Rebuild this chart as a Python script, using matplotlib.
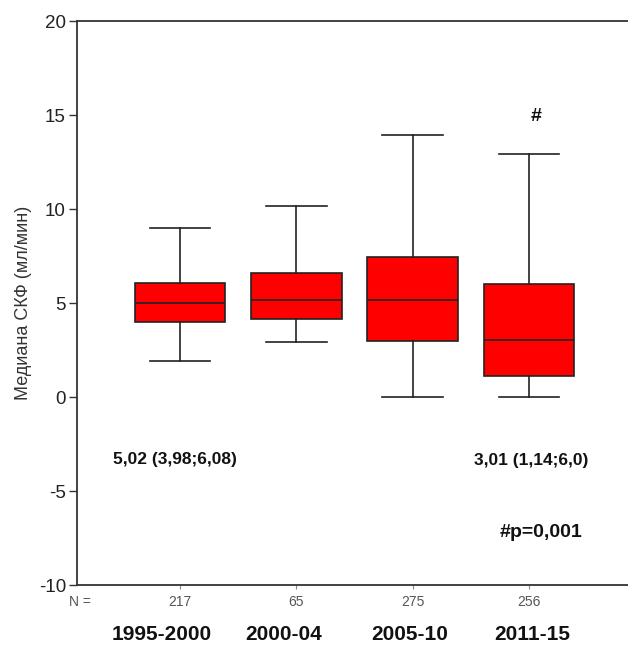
import matplotlib
matplotlib.use("Agg")
import matplotlib.pyplot as plt

plt.rcParams['font.family'] = ['Liberation Sans', 'DejaVu Sans']

categories = ["1995-2000", "2000-04", "2005-10", "2011-15"]
n_counts = ["217", "65", "275", "256"]
medians = [5.02, 5.17, 5.17, 3.01]
q1 = [3.98, 4.16, 3.0, 1.14]
q3 = [6.08, 6.6, 7.46, 6.0]
whislo = [1.9, 2.9, 0.0, 0.0]
whishi = [9.0, 10.15, 13.95, 12.95]
yticks = [-10, -5, 0, 5, 10, 15, 20]

fig = plt.figure(figsize=(6.28, 6.49), dpi=100)
ax = fig.add_axes([77/628, 64/649, 1 - 77/628, (585-21)/649])

stats = []
for i in range(len(categories)):
    stats.append(dict(med=medians[i], q1=q1[i], q3=q3[i],
                      whislo=whislo[i], whishi=whishi[i], fliers=[], label=categories[i]))

positions = list(range(1, len(categories) + 1))
ax.bxp(stats, positions=positions, widths=0.78, patch_artist=True,
       showfliers=False,
       boxprops=dict(facecolor='#ff0000', edgecolor='#222222', linewidth=1.2),
       medianprops=dict(color='#222222', linewidth=1.2),
       whiskerprops=dict(color='#222222', linewidth=1.2),
       capprops=dict(color='#222222', linewidth=1.2),
       capwidths=0.52)

ax.set_xlim(1 - (180-77)/116.5, 4 + (628-529)/116.5)
ax.set_ylim(-10, 20)
ax.set_yticks(yticks)
ax.set_yticklabels([str(t) for t in yticks], fontsize=13.5, color='#222222')
ax.set_xticks(positions)
ax.set_xticklabels([])
ax.tick_params(axis='y', length=6, width=1, color='#333333', pad=2)
ax.tick_params(axis='x', length=3, width=0.8, color='#888888')

for s in ['left', 'top', 'bottom']:
    ax.spines[s].set_color('#333333')
    ax.spines[s].set_linewidth(1.3)
ax.spines['right'].set_visible(False)

ax.set_ylabel("Медиана СКФ (мл/мин)", fontsize=13, color='#333333', labelpad=5)

# N labels and category labels
for p, n, c in zip(positions, n_counts, categories):
    ax.annotate(n, xy=(p, 0), xycoords=('data', 'axes fraction'),
                xytext=(0, -12.5), textcoords='offset points',
                ha='center', va='center', fontsize=10, color='#555555')
fig.text(80/628, 1 - 602/649, "N =", ha='center', va='center', fontsize=10, color='#555555')

cat_x = [162, 284, 410, 532]
for cx, c in zip(cat_x, categories):
    fig.text(cx/628, 1 - 634/649, c, ha='center', va='center',
             fontsize=15, fontweight='bold', color='#111111')

ax.text(0.957, -3.3, "5,02 (3,98;6,08)", ha='center', va='center',
        fontsize=12.5, fontweight='bold', color='#111111')
ax.text(4.015, -3.4, "3,01 (1,14;6,0)", ha='center', va='center',
        fontsize=12.5, fontweight='bold', color='#111111')
ax.text(4.1, -7.2, "#p=0,001", ha='center', va='center',
        fontsize=14, fontweight='bold', color='#111111')
ax.text(4.06, 14.9, "#", ha='center', va='center',
        fontsize=14, fontweight='bold', color='#111111')

fig.savefig("out.png", dpi=100)
